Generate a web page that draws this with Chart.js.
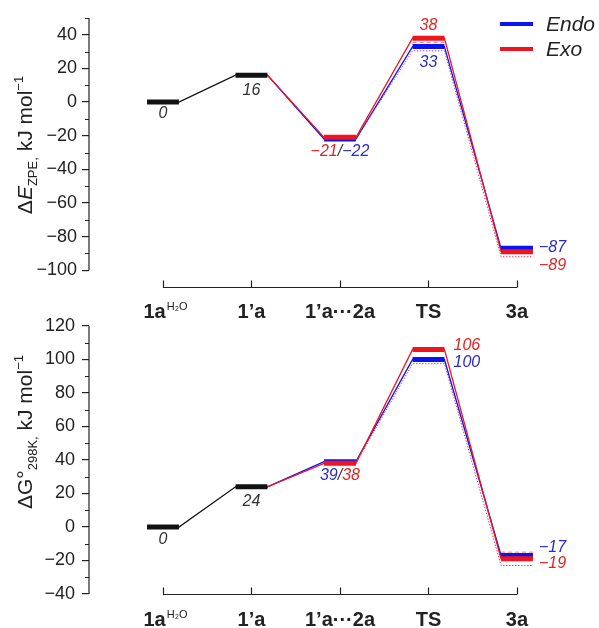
<!DOCTYPE html>
<html><head><meta charset="utf-8">
<script src="https://cdn.jsdelivr.net/npm/chart.js@4"></script>
<style>
html,body{margin:0;padding:0;background:#fff;width:599px;height:628px;overflow:hidden;}
canvas{position:absolute;left:0;}
#c1{top:0;} #c2{top:300px;}
</style></head><body>
<canvas id="c1" width="599" height="325"></canvas>
<canvas id="c2" width="599" height="328"></canvas>
<script>
// ---------- data ----------
const categories = ['1a', '1’a', '1’a···2a', 'TS', '3a'];
const seriesNames = ['Endo', 'Exo'];
// ΔE_ZPE (top)
const topCommon = [0, 16];
const topEndo   = [null, 16, -22, 33, -87];
const topExo    = [null, 16, -21, 38, -89];
const topAltDotted = [null, null, -22, 30.5, -92];
const topAltDashed = [null, null, null, 35.5, null];
const topYTicks = [-100, -80, -60, -40, -20, 0, 20, 40];
// ΔG°298K (bottom)
const botCommon = [0, 24];
const botEndo   = [null, 24, 39, 100, -17];
const botExo    = [null, 24, 38, 106, -19];
const botAltDotted = [null, null, 38, 97.5, -23];
const botAltDashed = [null, null, null, null, -15];
const botYTicks = [-40, -20, 0, 20, 40, 60, 80, 100, 120];

// ---------- styles ----------
const FONT = '"Liberation Sans", Arial, sans-serif';
const BLUE = '#0a14f0', RED = '#f0141e', BLACK = '#111111';
const BLUE_T = '#2a2ac8', RED_T = '#e42222', BLACK_T = '#333333';
const HW = 0.18;

const fmt = v => String(v).replace('-', '\u2212');

function barData(vals, from) {
  const pts = [];
  vals.forEach((v, i) => {
    if (v == null || i < from) return;
    pts.push({x: i + 1 - HW, y: v}, {x: i + 1 + HW, y: v}, {x: i + 1 + HW + 0.01, y: null});
  });
  return pts;
}
function lineData(vals) {
  const pts = [];
  vals.forEach((v, i) => {
    if (v == null) return;
    pts.push({x: i + 1 - HW, y: v}, {x: i + 1 + HW, y: v});
  });
  return pts;
}
function ds(data, color, width, order, dash) {
  return {data, borderColor: color, borderWidth: width, pointRadius: 0, pointHoverRadius: 0,
    tension: 0, fill: false, spanGaps: false, order, borderDash: dash || [], borderCapStyle: 'butt'};
}

function drawRich(ctx, pieces, cx, cy) {
  ctx.save(); ctx.translate(cx, cy); ctx.rotate(-Math.PI / 2);
  let total = 0;
  pieces.forEach(p => { ctx.font = p.font; p.w = ctx.measureText(p.t).width; total += p.w; });
  let x = -total / 2;
  ctx.textBaseline = 'alphabetic'; ctx.textAlign = 'left';
  pieces.forEach(p => { ctx.font = p.font; ctx.fillStyle = '#222'; ctx.fillText(p.t, x, p.dy || 0); x += p.w; });
  ctx.restore();
}

function makeChart(id, o) {
  const datasets = [
    ds(barData(o.exo, 2), RED, 5, 0),
    ds(barData(o.endo, 2), BLUE, 5, 1),
    ds(barData(o.common, 0), BLACK, 5, 2),
    ds(lineData(o.altDashed), '#f07878', 1, 3, [4, 3]),
    ds(lineData(o.altDotted), '#e0406a', 1, 4, [1.5, 1.5]),
    ds(lineData(o.exo), RED, 1.3, 5),
    ds(lineData(o.endo), BLUE, 1.3, 6),
    ds(lineData(o.common), BLACK, 1.3, 7)
  ];
  const deco = {
    id: 'deco' + id,
    afterDraw(chart) {
      const ctx = chart.ctx, xs = chart.scales.x, ys = chart.scales.y, ca = chart.chartArea;
      ctx.save();
      ctx.strokeStyle = '#222'; ctx.lineWidth = 1.2;
      // y axis line + minor ticks
      ctx.beginPath();
      ctx.moveTo(ca.left, ys.getPixelForValue(o.axisTop));
      ctx.lineTo(ca.left, ys.getPixelForValue(o.axisBottom));
      for (let v = o.axisBottom; v <= o.axisTop; v += 10) {
        if (o.yTicks.includes(v)) continue;
        const py = Math.round(ys.getPixelForValue(v)) + 0.5;
        ctx.moveTo(ca.left - 4, py); ctx.lineTo(ca.left, py);
      }
      ctx.stroke();
      // x axis line with upward ticks
      const xb = Math.round(ca.bottom) + 0.5;
      ctx.beginPath();
      ctx.moveTo(xs.getPixelForValue(1), xb);
      ctx.lineTo(xs.getPixelForValue(categories.length), xb);
      categories.forEach((c, i) => {
        const px = Math.round(xs.getPixelForValue(i + 1)) + 0.5;
        ctx.moveTo(px, xb); ctx.lineTo(px, xb - 7);
      });
      ctx.stroke();
      // category labels
      ctx.fillStyle = '#222'; ctx.textBaseline = 'middle';
      categories.forEach((c, i) => {
        const px = xs.getPixelForValue(i + 1);
        ctx.font = 'bold 20px ' + FONT;
        if (i === 0) {
          const w1 = ctx.measureText(c).width;
          ctx.font = '11px ' + FONT;
          const w2 = ctx.measureText('H\u2082O').width;
          const x0 = px - (w1 + w2) / 2 + 2;
          ctx.font = 'bold 20px ' + FONT; ctx.textAlign = 'left';
          ctx.fillText(c, x0, o.labelY);
          ctx.font = '11px ' + FONT;
          ctx.fillText('H\u2082O', x0 + w1 + 1, o.labelY - 5);
        } else {
          ctx.textAlign = 'center';
          ctx.fillText(c, px, o.labelY);
        }
      });
      // value labels
      ctx.textBaseline = 'middle';
      o.valueLabels.forEach(l => {
        ctx.font = 'italic 16px ' + FONT;
        let x = xs.getPixelForValue(l.cat + 1) + (l.dx || 0);
        const y = ys.getPixelForValue(l.val) + l.dy;
        const parts = l.parts;
        let total = 0; parts.forEach(p => { p.w = ctx.measureText(p.t).width; total += p.w; });
        if (l.align !== 'left') x -= total / 2;
        ctx.textAlign = 'left';
        parts.forEach(p => { ctx.fillStyle = p.c; ctx.fillText(p.t, x, y); x += p.w; });
      });
      // axis title
      drawRich(ctx, o.title, 32, o.titleY);
      // legend
      if (o.legend) {
        [BLUE, RED].forEach((col, i) => {
          const ly = 24 + i * 25;
          ctx.strokeStyle = col; ctx.lineWidth = 4;
          ctx.beginPath(); ctx.moveTo(500, ly); ctx.lineTo(533, ly); ctx.stroke();
          ctx.fillStyle = '#222'; ctx.font = 'italic 21px ' + FONT;
          ctx.textAlign = 'left'; ctx.textBaseline = 'middle';
          ctx.fillText(seriesNames[i], 546, ly + 1);
        });
      }
      ctx.restore();
    }
  };
  return new Chart(document.getElementById(id), {
    type: 'line',
    data: {datasets},
    options: {
      responsive: false, animation: false, events: [],
      layout: {padding: {left: 0, right: 9, top: o.padTop, bottom: o.padBottom}},
      plugins: {legend: {display: false}, tooltip: {enabled: false}},
      scales: {
        x: {type: 'linear', min: 0.164, max: 5.825, display: false},
        y: {
          type: 'linear', min: o.yMin, max: o.yMax,
          afterFit: s => { s.width = 89; },
          afterBuildTicks: s => { s.ticks = o.yTicks.map(v => ({value: v})); },
          border: {display: false},
          grid: {drawOnChartArea: false, drawTicks: true, tickLength: 7, color: '#222', lineWidth: 1.2},
          ticks: {padding: o.tickPad, color: '#222', font: {family: FONT, size: 18}, callback: v => fmt(v)}
        }
      }
    },
    plugins: [deco]
  });
}

const SM = '13px ' + FONT, BIG = '21px ' + FONT;
makeChart('c1', {
  common: topCommon, endo: topEndo, exo: topExo, altDotted: topAltDotted, altDashed: topAltDashed,
  yTicks: topYTicks, yMin: -110, yMax: 50, axisTop: 50, axisBottom: -100,
  padTop: 18, padBottom: 38, labelY: 312, titleY: 145, legend: true, tickPad: 5,
  title: [{t: '\u0394', font: BIG}, {t: 'E', font: 'italic ' + BIG}, {t: 'ZPE', font: SM, dy: 5},
          {t: ',', font: SM, dy: 5}, {t: ' kJ mol', font: BIG}, {t: '\u22121', font: SM, dy: -9}],
  valueLabels: [
    {cat: 0, val: topCommon[0], dy: 11, parts: [{t: fmt(topCommon[0]), c: BLACK_T}]},
    {cat: 1, val: topCommon[1], dy: 15, parts: [{t: fmt(topCommon[1]), c: BLACK_T}]},
    {cat: 2, val: topEndo[2], dy: 12, parts: [{t: fmt(topExo[2]), c: RED_T}, {t: '/', c: BLACK_T}, {t: fmt(topEndo[2]), c: BLUE_T}]},
    {cat: 3, val: topExo[3], dy: -13, parts: [{t: fmt(topExo[3]), c: RED_T}]},
    {cat: 3, val: topEndo[3], dy: 16, parts: [{t: fmt(topEndo[3]), c: BLUE_T}]},
    {cat: 4, val: topEndo[4], dx: 22, dy: -1, align: 'left', parts: [{t: fmt(topEndo[4]), c: BLUE_T}]},
    {cat: 4, val: topExo[4], dx: 22, dy: 14, align: 'left', parts: [{t: fmt(topExo[4]), c: RED_T}]}
  ]
});
makeChart('c2', {
  common: botCommon, endo: botEndo, exo: botExo, altDotted: botAltDotted, altDashed: botAltDashed,
  yTicks: botYTicks, yMin: -40, yMax: 120, axisTop: 120, axisBottom: -40,
  padTop: 26, padBottom: 34, labelY: 320, titleY: 132, legend: false, tickPad: 7,
  title: [{t: '\u0394G\u00b0', font: BIG}, {t: '298K', font: SM, dy: 5},
          {t: ',', font: SM, dy: 5}, {t: ' kJ mol', font: BIG}, {t: '\u22121', font: SM, dy: -9}],
  valueLabels: [
    {cat: 0, val: botCommon[0], dy: 13, parts: [{t: fmt(botCommon[0]), c: BLACK_T}]},
    {cat: 1, val: botCommon[1], dy: 15, parts: [{t: fmt(botCommon[1]), c: BLACK_T}]},
    {cat: 2, val: botExo[2], dy: 12, parts: [{t: fmt(botEndo[2]), c: BLUE_T}, {t: '/', c: BLACK_T}, {t: fmt(botExo[2]), c: RED_T}]},
    {cat: 3, val: botExo[3], dx: 25, dy: -4, align: 'left', parts: [{t: fmt(botExo[3]), c: RED_T}]},
    {cat: 3, val: botEndo[3], dx: 25, dy: 3, align: 'left', parts: [{t: fmt(botEndo[3]), c: BLUE_T}]},
    {cat: 4, val: botEndo[4], dx: 22, dy: -8, align: 'left', parts: [{t: fmt(botEndo[4]), c: BLUE_T}]},
    {cat: 4, val: botExo[4], dx: 22, dy: 5, align: 'left', parts: [{t: fmt(botExo[4]), c: RED_T}]}
  ]
});
</script>
</body></html>
